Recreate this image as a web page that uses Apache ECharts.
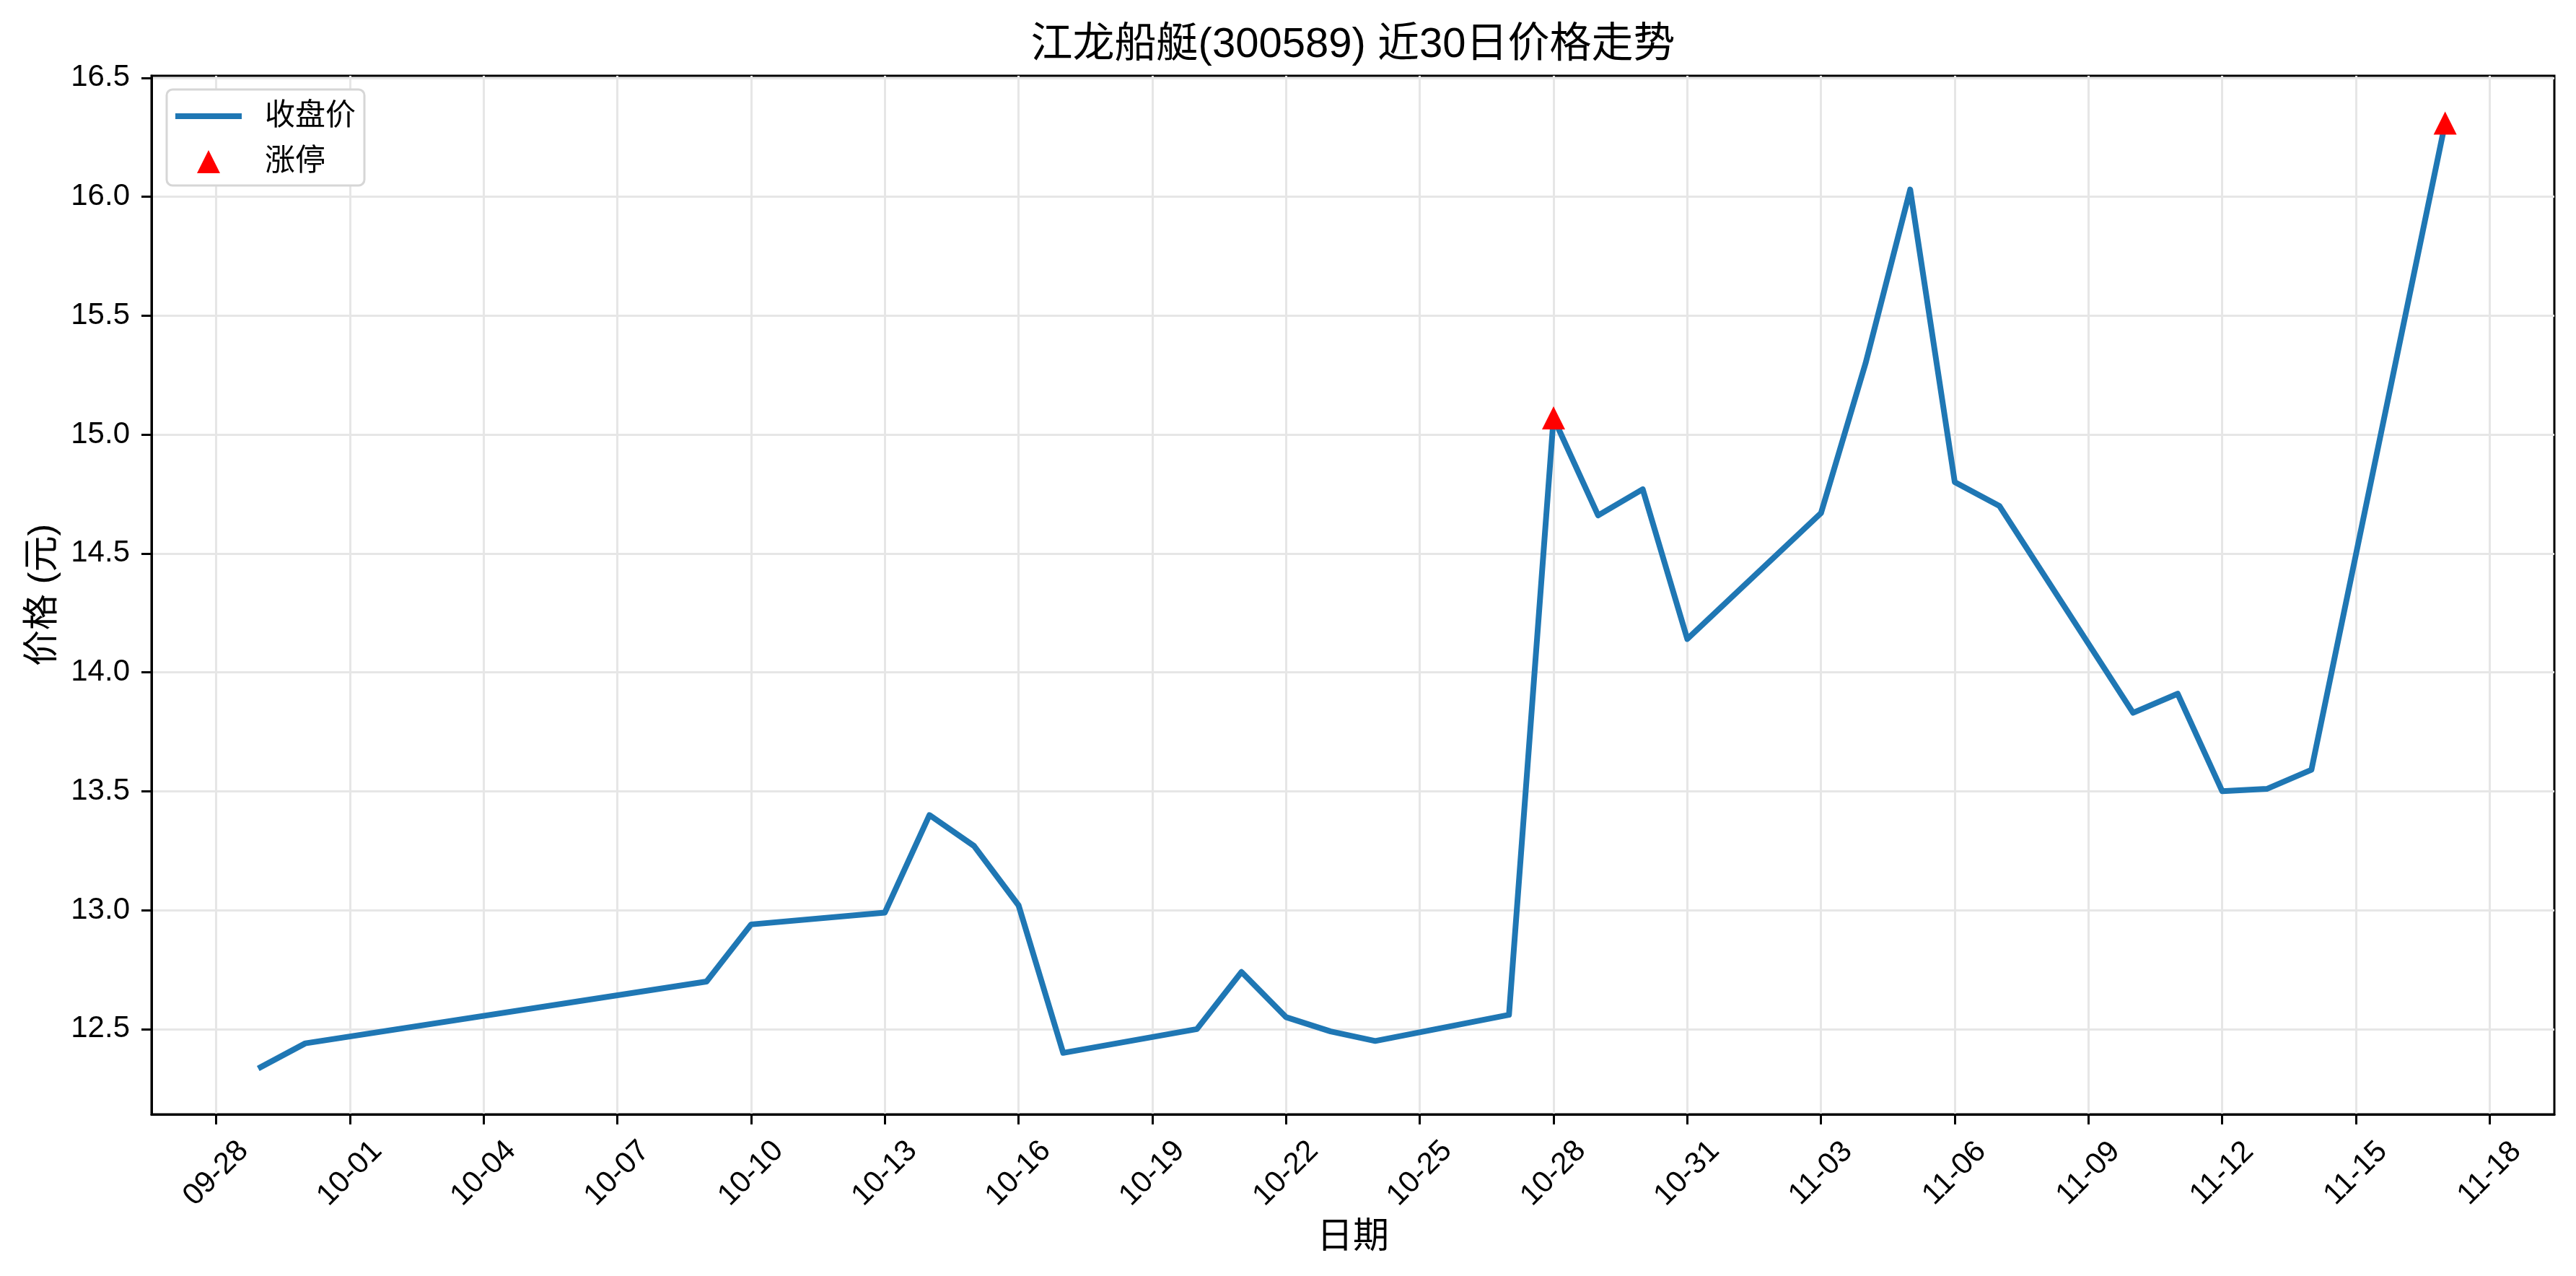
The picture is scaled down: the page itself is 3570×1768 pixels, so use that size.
<!DOCTYPE html>
<html>
<head>
<meta charset="utf-8">
<script src="https://cdn.jsdelivr.net/npm/echarts@6/dist/echarts.min.js"></script>
<style>
html,body{margin:0;padding:0;background:#fff;}
#chart{width:3570px;height:1768px;}
</style>
</head>
<body>
<div id="chart"></div>
<script>
// ---- data ----
const dates = ['2025-09-29','2025-09-30','2025-10-09','2025-10-10','2025-10-13','2025-10-14','2025-10-15','2025-10-16','2025-10-17','2025-10-20','2025-10-21','2025-10-22','2025-10-23','2025-10-24','2025-10-27','2025-10-28','2025-10-29','2025-10-30','2025-10-31','2025-11-03','2025-11-04','2025-11-05','2025-11-06','2025-11-07','2025-11-10','2025-11-11','2025-11-12','2025-11-13','2025-11-14','2025-11-17'];
const closes = [12.34,12.44,12.70,12.94,12.99,13.40,13.27,13.02,12.40,12.50,12.74,12.55,12.49,12.45,12.56,15.07,14.66,14.77,14.14,14.67,15.30,16.03,14.80,14.70,13.83,13.91,13.50,13.51,13.59,16.31];
const limitUpDates = ['2025-10-28','2025-11-17'];
const xTickLabels = ['09-28','10-01','10-04','10-07','10-10','10-13','10-16','10-19','10-22','10-25','10-28','10-31','11-03','11-06','11-09','11-12','11-15','11-18'];
const yTicks = [12.5,13.0,13.5,14.0,14.5,15.0,15.5,16.0,16.5];
const titleText = '江龙船艇(300589) 近30日价格走势';
const seriesNames = ['收盘价','涨停'];
const year = 2025;

// ---- helpers ----
const DAY = 86400000;
const origin = Date.UTC(year, 8, 28);
function dayNum(s){ const p = s.split('-').map(Number); return (Date.UTC(p[0], p[1]-1, p[2]) - origin) / DAY; }
function mmdd(v){ const d = new Date(origin + Math.round(v) * DAY); const m = d.getUTCMonth()+1, dd = d.getUTCDate(); return (m<10?'0':'')+m+'-'+(dd<10?'0':'')+dd; }

const lineData = dates.map((d,i)=>[dayNum(d), closes[i]]);
const limitData = limitUpDates.map(d=>[dayNum(d), closes[dates.indexOf(d)]]);
const xTicks = xTickLabels.map(l=>dayNum(year+'-'+l));

const xs = lineData.map(p=>p[0]);
const ys = lineData.map(p=>p[1]).concat(limitData.map(p=>p[1]));
const xSpan = Math.max(...xs) - Math.min(...xs);
const ySpan = Math.max(...ys) - Math.min(...ys);
const xMin = Math.min(...xs) - 0.05*xSpan, xMax = Math.max(...xs) + 0.05*xSpan;
const yMin = Math.min(...ys) - 0.05*ySpan, yMax = Math.max(...ys) + 0.05*ySpan;

const FONT = "'Liberation Sans', Arial, 'Noto Sans CJK SC', sans-serif";

const chart = echarts.init(document.getElementById('chart'), null, {renderer:'canvas'});
chart.setOption({
  animation: false,
  backgroundColor: '#fff',
  textStyle: {fontFamily: FONT},
  title: {
    text: titleText, left: 1875, textAlign: 'center', top: 34, padding: 0,
    textStyle: {fontSize: 58, fontWeight: 'normal', color: '#000', fontFamily: FONT}
  },
  legend: {
    orient: 'vertical', left: 231, top: 124,
    padding: [16, 12, 12, 12], itemGap: 21, itemWidth: 92, itemHeight: 32,
    backgroundColor: '#fff', borderColor: '#d6d6d6', borderWidth: 3, borderRadius: 8,
    textStyle: {fontSize: 42, color: '#000', fontFamily: FONT, padding: [0,0,0,27]},
    data: [
      {name: seriesNames[0], icon: 'path://M0,0 L92,0 L92,8 L0,8 Z'},
      {name: seriesNames[1], icon: 'path://M16,0 L32,32 L0,32 Z'}
    ]
  },
  grid: {
    left: 210, top: 105, width: 3330, height: 1439,
    show: true, borderColor: '#000', borderWidth: 3, backgroundColor: 'transparent',
    containLabel: false, outerBoundsMode: 'none'
  },
  xAxis: {
    type: 'value', min: xMin, max: xMax,
    name: '日期', nameLocation: 'middle', nameGap: 146,
    nameTextStyle: {fontSize: 50, color: '#000', fontFamily: FONT},
    axisLine: {show: true, onZero: false, lineStyle: {color: '#000', width: 3}},
    axisTick: {show: true, length: 14, inside: false, lineStyle: {color: '#000', width: 3}, customValues: xTicks},
    axisLabel: {show: true, customValues: xTicks, formatter: v=>mmdd(v), rotate: 45, align: 'center', verticalAlign: 'middle', margin: 82, fontSize: 42, color: '#000', fontFamily: FONT},
    splitLine: {show: true, lineStyle: {color: '#e6e6e6', width: 3}}
  },
  yAxis: {
    type: 'value', min: yMin, max: yMax,
    name: '价格 (元)', nameLocation: 'middle', nameGap: 125, nameRotate: 90,
    nameTextStyle: {fontSize: 50, color: '#000', fontFamily: FONT},
    axisLine: {show: true, onZero: false, lineStyle: {color: '#000', width: 3}},
    axisTick: {show: true, length: 14, inside: false, lineStyle: {color: '#000', width: 3}, customValues: yTicks},
    axisLabel: {show: true, customValues: yTicks, formatter: v=>v.toFixed(1), margin: 30, fontSize: 42, color: '#000', fontFamily: FONT},
    splitLine: {show: true, lineStyle: {color: '#e6e6e6', width: 3}}
  },
  series: [
    {
      name: seriesNames[0], type: 'line', data: lineData, symbol: 'none',
      lineStyle: {color: '#1f77b4', width: 8, cap: 'square', join: 'round'},
      itemStyle: {color: '#1f77b4'}, z: 3
    },
    {
      name: seriesNames[1], type: 'scatter', data: limitData,
      symbol: 'triangle', symbolSize: [32, 32],
      itemStyle: {color: '#ff0000', opacity: 1}, z: 4
    }
  ]
});
</script>
</body>
</html>
